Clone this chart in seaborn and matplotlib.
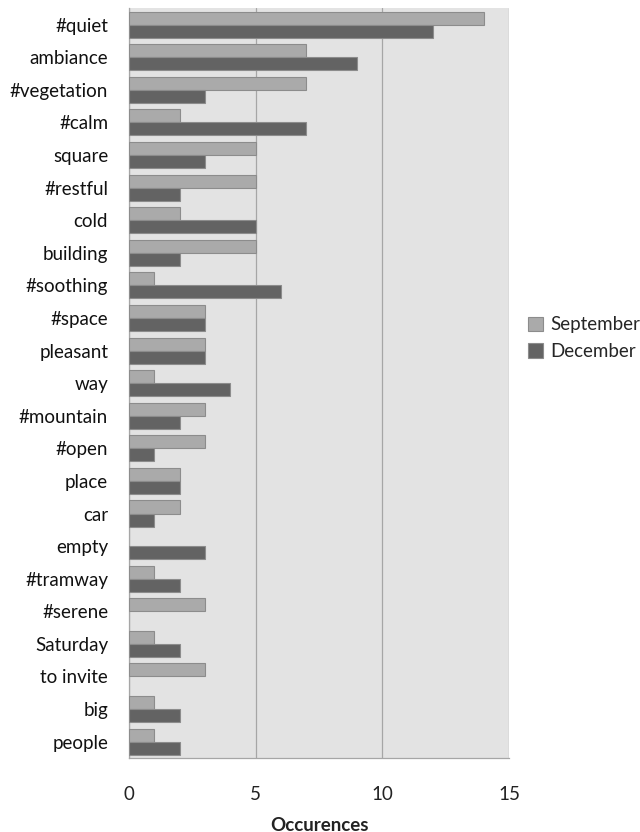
import numpy as np
import pandas as pd
import matplotlib
matplotlib.use('Agg')
import matplotlib.pyplot as plt
import seaborn as sns

# data
words = ['#quiet', 'ambiance', '#vegetation', '#calm', 'square', '#restful', 'cold',
         'building', '#soothing', '#space', 'pleasant', 'way', '#mountain', '#open',
         'place', 'car', 'empty', '#tramway', '#serene', 'Saturday', 'to invite',
         'big', 'people']
september = [14, 7, 7, 2, 5, 5, 2, 5, 1, 3, 3, 1, 3, 3, 2, 2, 0, 1, 3, 1, 3, 1, 1]
december = [12, 9, 3, 7, 3, 2, 5, 2, 6, 3, 3, 4, 2, 1, 2, 1, 3, 2, 0, 2, 0, 2, 2]

df = pd.DataFrame({'word': words, 'September': september, 'December': december})
long = df.melt(id_vars='word', var_name='month', value_name='count')

sns.set_style('white')
plt.rcParams['font.family'] = ['Lato', 'DejaVu Sans']

fig = plt.figure(figsize=(6.4, 8.32), dpi=100)
ax = fig.add_axes([0.2016, 0.089, 0.5937, 0.901])
ax.set_facecolor('#e3e3e3')

sns.barplot(data=long, y='word', x='count', hue='month', orient='h',
            palette={'September': '#aaaaaa', 'December': '#636363'},
            width=0.8, edgecolor='#8c8c8c', linewidth=0.8, ax=ax, zorder=3)

# zero-length bars would still show their edge as a thin line
for p in ax.patches:
    if p.get_width() == 0 and p.get_height() > 0:
        p.set_visible(False)

ax.set_xlim(0, 15)
ax.set_ylim(len(words) - 0.5, -0.5)
ax.set_xticks([0, 5, 10, 15])
ax.xaxis.grid(True, color='#a6a6a6', linewidth=0.9, zorder=0)
ax.set_axisbelow(True)
ax.tick_params(axis='x', length=0, labelsize=13.5, pad=20, colors='#222222')
ax.tick_params(axis='y', which='major', length=0, labelsize=13.5, pad=15, colors='#111111')
ax.set_yticks(np.arange(len(words) + 1) - 0.5, minor=True)
ax.tick_params(axis='y', which='minor', length=5, color='#a6a6a6', width=0.9)
ax.set_xlabel('Occurences', fontsize=13.5, fontweight='bold', labelpad=10, color='#222222')
ax.set_ylabel('')

for side in ['top', 'right']:
    ax.spines[side].set_visible(False)
for side in ['left', 'bottom']:
    ax.spines[side].set_color('#a6a6a6')
    ax.spines[side].set_linewidth(0.9)

handles, labels = ax.get_legend_handles_labels()
ax.legend(handles, labels, loc='center left', bbox_to_anchor=(1.02, 0.56),
          frameon=False, fontsize=13.5, handlelength=0.8, handleheight=0.8,
          handletextpad=0.4, labelspacing=0.5, borderaxespad=0.2)

fig.savefig('out.png', dpi=100)
